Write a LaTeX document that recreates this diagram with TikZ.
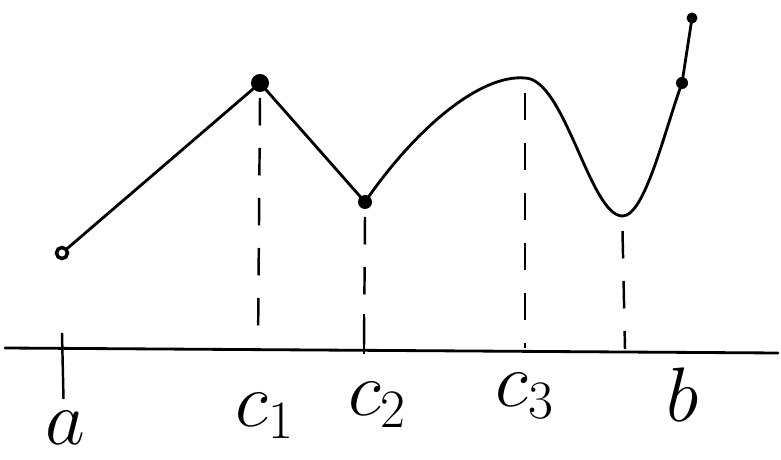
\RequirePackage{fix-cm}
\documentclass[tikz,border=0pt]{standalone}
\usepackage{tikz}
\usetikzlibrary{positioning,calc}
\definecolor{ink}{HTML}{000000}
\tikzset{
  every node/.style={font=\fontsize{44}{48}\selectfont},
  pen/.style={draw=ink, line width=1.6pt, line cap=round, line join=round},
  guide/.style={draw=ink, line width=1.4pt, dash pattern=on 0.55cm off 0.45cm},
  dot/.style={circle, fill=ink, inner sep=0pt, minimum size=0.28cm},
  ring/.style={circle, draw=ink, line width=2pt, fill=white, inner sep=0pt, minimum size=0.22cm},
  tickmark/.style={draw=ink, line width=1.4pt},
}
\begin{document}
\begin{tikzpicture}
  \useasboundingbox (0,0) rectangle (15.62,9.18);
  \coordinate (axl) at (0.1,2.22);
  \coordinate (axr) at (15.56,2.12);
  \coordinate (pa) at (1.24,4.12);
  \coordinate (pc1) at (5.20,7.52);
  \coordinate (pc2) at (7.30,5.14);
  \coordinate (pc3) at (10.50,7.62);
  \coordinate (pm) at (12.45,4.86);
  \coordinate (pp) at (13.64,7.52);
  \coordinate (pe) at (13.84,8.82);
  \coordinate (ta) at (1.24,2.20);
  \coordinate (tc1) at (5.16,2.20);
  \coordinate (tc2) at (7.28,2.20);
  \coordinate (tc3) at (10.50,2.22);
  \coordinate (tb) at (12.50,2.20);
  \draw[pen] (axl) -- (axr);
  \draw[pen] (pa) -- (pc1) -- (pc2)
    .. controls (8.3,6.6) and (9.6,7.7) .. (pc3)
    .. controls (11.3,7.6) and (11.8,4.86) .. (pm)
    .. controls (12.9,4.86) and (13.3,6.6) .. (pp) -- (pe);
  \draw[guide] ($(pc1)+(0,-0.3)$) -- (tc1);
  \draw[guide] ($(pc2)+(0,-0.3)$) -- (tc2);
  \draw[guide] ($(pc3)+(0,-0.3)$) -- (tc3);
  \draw[guide] ($(pm)+(0,-0.3)$) -- (tb);
  \draw[tickmark] ($(ta)+(0,0.32)$) -- ($(ta)+(0.03,-1.0)$);
  \draw[tickmark] ($(tc2)+(0,0.7)$) -- ($(tc2)+(0,-0.1)$);
  \node[ring] (na) at (pa) {};
  \node[dot, minimum size=0.36cm] (nc1) at (pc1) {};
  \node[dot] (nc2) at (pc2) {};
  \node[dot, minimum size=0.24cm] (np) at (pp) {};
  \node[dot, minimum size=0.22cm] (ne) at (pe) {};
  \node (la) at (1.30,0.62) {$a$};
  \node (lc1) at (5.30,0.86) {$c_1$};
  \node (lc2) at (7.55,1.08) {$c_2$};
  \node (lc3) at (10.50,1.26) {$c_3$};
  \node (lb) at (13.65,1.28) {$b$};
\end{tikzpicture}
\end{document}
